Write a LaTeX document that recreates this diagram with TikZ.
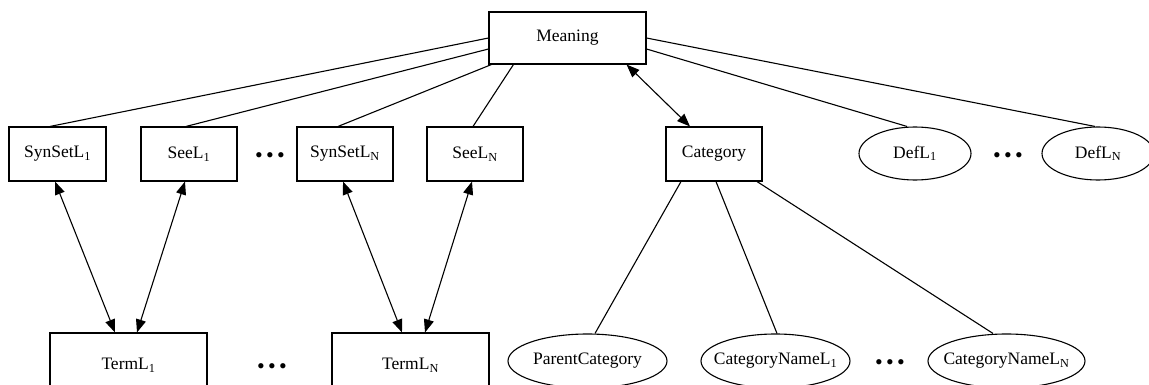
\documentclass[tikz,border=0pt]{standalone}
\usepackage{fontspec}
\setmainfont{Liberation Serif}
\usetikzlibrary{arrows.meta,shapes.geometric}
\begin{document}
\begin{tikzpicture}[x=1pt,y=-1pt,
  every node/.style={font=\fontsize{17.5}{20}\selectfont, inner sep=0pt},
  rbox/.style={draw, line width=1.1pt, rectangle, minimum height=54pt},
  ebox/.style={draw, line width=1.1pt, ellipse, minimum height=54pt, inner xsep=-40pt},
  link/.style={line width=1.1pt},
  dlink/.style={line width=1.1pt, {Triangle[length=13pt,width=10pt]}-{Triangle[length=13pt,width=10pt]}},
  dotsnode/.style={font=\fontsize{22}{22}\selectfont}]
\useasboundingbox (0,0) rectangle (1149,385);
% top row
\node[rbox, minimum width=157pt, minimum height=52pt] (Meaning) at (567.5,38) {Meaning};
\node[rbox, minimum width=97pt] (SynSet1) at (57.5,154) {SynSetL\textsubscript{1}};
\node[rbox, minimum width=96pt] (See1) at (189,154) {SeeL\textsubscript{1}};
\node[dotsnode] (dA) at (270,157.7) {•\hspace{3.3pt}•\hspace{3.3pt}•};
\node[rbox, minimum width=96pt] (SynSetN) at (345,154) {SynSetL\textsubscript{N}};
\node[rbox, minimum width=96pt] (SeeN) at (475,154) {SeeL\textsubscript{N}};
\node[rbox, minimum width=96pt] (Category) at (714,154) {Category};
\node[ebox, minimum width=112pt, minimum height=53pt] (Def1) at (915,153.5) {DefL\textsubscript{1}};
\node[dotsnode] (dB) at (1008,157.7) {•\hspace{3.3pt}•\hspace{3.3pt}•};
\node[ebox, minimum width=112pt, minimum height=53pt] (DefN) at (1098,153.5) {DefL\textsubscript{N}};
% bottom row
\node[rbox, minimum width=157pt, minimum height=64pt] (Term1) at (128.5,365) {TermL\textsubscript{1}};
\node[dotsnode] (dC) at (272,369) {•\hspace{3.3pt}•\hspace{3.3pt}•};
\node[rbox, minimum width=157pt, minimum height=64pt] (TermN) at (410.5,365) {TermL\textsubscript{N}};
\node[ebox, minimum width=159pt] (Parent) at (587.5,361) {ParentCategory};
\node[ebox, minimum width=149pt] (CatName1) at (775.5,361) {CategoryNameL\textsubscript{1}};
\node[dotsnode] (dD) at (890,365) {•\hspace{3.3pt}•\hspace{3.3pt}•};
\node[ebox, minimum width=157pt] (CatNameN) at (1006.5,361) {CategoryNameL\textsubscript{N}};
% edges from Meaning
\draw[link] (Meaning.west) -- ([xshift=-7.5pt]SynSet1.north);
\draw[link] ([yshift=-11pt]Meaning.west) -- ([xshift=-3pt]See1.north);
\draw[link] ([xshift=3pt]Meaning.south west) -- ([xshift=-7pt]SynSetN.north);
\draw[link] ([xshift=25pt]Meaning.south west) -- ([xshift=-2pt]SeeN.north);
\draw[dlink] ([xshift=-20pt]Meaning.south east) -- ([xshift=-24pt]Category.north);
\draw[link] ([yshift=-11pt]Meaning.east) -- ([xshift=-8pt]Def1.north);
\draw[link] (Meaning.east) -- ([xshift=-3pt]DefN.north);
% synset/see to terms
\draw[dlink] ([xshift=-2.5pt]SynSet1.south) -- ([xshift=-13.5pt]Term1.north);
\draw[dlink] ([xshift=-4pt]See1.south) -- ([xshift=8.5pt]Term1.north);
\draw[dlink] ([xshift=-2pt]SynSetN.south) -- ([xshift=-8.5pt]TermN.north);
\draw[dlink] ([xshift=-3pt]SeeN.south) -- ([xshift=14.5pt]TermN.north);
% category children
\draw[link] ([xshift=-33pt]Category.south) -- ([xshift=7.5pt]Parent.north);
\draw[link] ([xshift=2pt]Category.south) -- ([xshift=1.5pt]CatName1.north);
\draw[link] ([xshift=43pt]Category.south) -- ([xshift=-13.5pt]CatNameN.north);
\end{tikzpicture}
\end{document}
